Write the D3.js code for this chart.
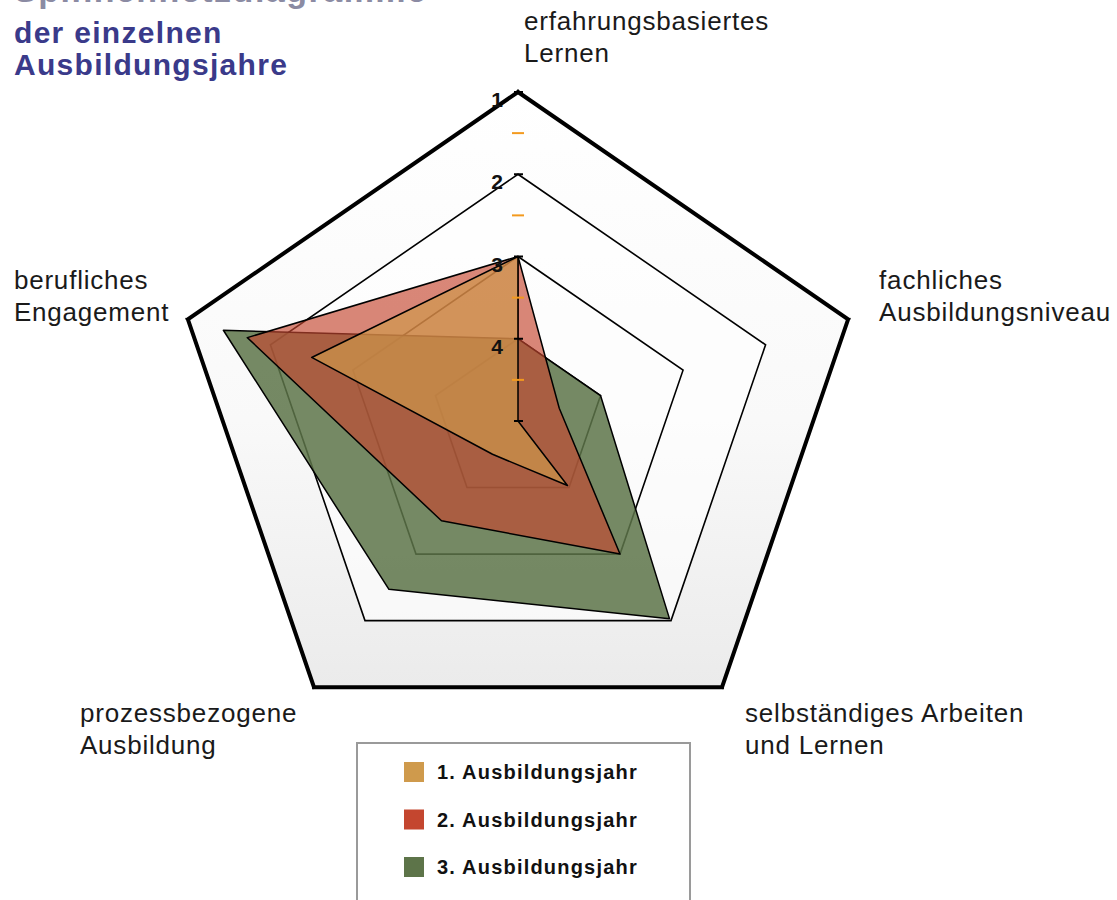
<!DOCTYPE html>
<html>
<head>
<meta charset="utf-8">
<script src="https://cdn.jsdelivr.net/npm/d3@7"></script>
<style>
  body { margin: 0; background: #fff; }
  svg { display: block; }
</style>
</head>
<body>
<svg id="chart" width="1117" height="900"></svg>
<script>
// axes, clockwise from top
const axes = [
  ['erfahrungsbasiertes', 'Lernen'],
  ['fachliches', 'Ausbildungsniveau'],
  ['selbständiges Arbeiten', 'und Lernen'],
  ['prozessbezogene', 'Ausbildung'],
  ['berufliches', 'Engagement'],
]

// series (scale runs 1 = outside, 5 = centre)
const seriesNames = ['1. Ausbildungsjahr', '2. Ausbildungsjahr', '3. Ausbildungsjahr']
const year1 = [3.0, 5.0, 4.03, 4.5, 2.5]
const year2 = [3.0, 4.5, 3.0, 3.5, 1.72]
const year3 = [4.0, 4.0, 2.03, 2.47, 1.43]
const seriesValues = [year1, year2, year3]
const seriesColors = ['#cf9a4c', '#c4462f', '#5d7449']

const majorTicks = [1, 2, 3, 4, 5]
const minorTicks = [1.5, 2.5, 3.5, 4.5]
const tickLabels = ['1', '2', '3', '4']

const titleLines = ['Spinnennetzdiagramme', 'der einzelnen', 'Ausbildungsjahre']

// layout
const cx = 518, cy = 421, radius = 329
const sx = 1.055 // picture is slightly wider than tall
const labelFont = 'Liberation Sans, Arial, sans-serif'

const svg = d3.select('#chart')

const r = d3.scaleLinear().domain([5, 1]).range([0, radius])
const angle = d3.scaleLinear().domain([0, axes.length]).range([0, 2 * Math.PI])

function pt(i, v) {
  const a = angle(i)
  return [cx + sx * r(v) * Math.sin(a), cy - r(v) * Math.cos(a)]
}
function ring(v) {
  return axes.map((_, i) => pt(i, v))
}
const closed = d3.line().curve(d3.curveLinearClosed)

// background gradient
const defs = svg.append('defs')
const grad = defs.append('linearGradient')
  .attr('id', 'bg').attr('x1', 0).attr('y1', 0).attr('x2', 0).attr('y2', 1)
grad.append('stop').attr('offset', '0%').attr('stop-color', '#ffffff')
grad.append('stop').attr('offset', '55%').attr('stop-color', '#f9f9f9')
grad.append('stop').attr('offset', '100%').attr('stop-color', '#ebebeb')

const plot = svg.append('g').attr('id', 'plot')

plot.append('path')
  .attr('d', closed(ring(1)))
  .attr('fill', 'url(#bg)')

// inner white-ish area
plot.append('path')
  .attr('d', closed(ring(2)))
  .attr('fill', '#ffffff')
  .attr('opacity', 0.6)

// grid rings
plot.append('g').selectAll('path')
  .data([2, 3, 4])
  .join('path')
  .attr('d', (d) => closed(ring(d)))
  .attr('fill', 'none')
  .attr('stroke', '#000')
  .attr('stroke-width', 1.6)

// axis line (centre up to value 3)
plot.append('line')
  .attr('x1', cx).attr('y1', cy)
  .attr('x2', cx).attr('y2', cy - r(3))
  .attr('stroke', '#000')
  .attr('stroke-width', 2)

// series polygons, third year at the back
const polys = plot.append('g').attr('id', 'series')
seriesValues.map((vals, k) => ({ vals, k })).reverse().forEach(({ vals, k }) => {
  polys.append('path')
    .attr('d', closed(vals.map((v, i) => pt(i, v))))
    .attr('fill', seriesColors[k])
    .attr('fill-opacity', k === 2 ? 0.85 : 0.65)
    .attr('stroke', '#000')
    .attr('stroke-width', 1.5)
    .attr('stroke-linejoin', 'round')
})

// outer ring
plot.append('path')
  .attr('d', closed(ring(1)))
  .attr('fill', 'none')
  .attr('stroke', '#000')
  .attr('stroke-width', 4)
  .attr('stroke-linejoin', 'miter')

// small axis ends beyond the outer ring
plot.append('g').selectAll('line')
  .data(axes)
  .join('line')
  .attr('x1', (d, i) => pt(i, 1)[0])
  .attr('y1', (d, i) => pt(i, 1)[1])
  .attr('x2', (d, i) => pt(i, 0.97)[0])
  .attr('y2', (d, i) => pt(i, 0.97)[1])
  .attr('stroke', '#000')
  .attr('stroke-width', 1.5)

// ticks on the vertical axis
plot.append('g').selectAll('line')
  .data(minorTicks)
  .join('line')
  .attr('x1', cx - 6).attr('x2', cx + 6)
  .attr('y1', (d) => cy - r(d)).attr('y2', (d) => cy - r(d))
  .attr('stroke', '#f39a1e')
  .attr('stroke-width', 2)

plot.append('g').selectAll('line')
  .data(majorTicks)
  .join('line')
  .attr('x1', cx - 4).attr('x2', cx + 5)
  .attr('y1', (d) => cy - r(d)).attr('y2', (d) => cy - r(d))
  .attr('stroke', '#000')
  .attr('stroke-width', 2)

plot.append('g').selectAll('text')
  .data(tickLabels)
  .join('text')
  .attr('x', cx - 15)
  .attr('y', (d) => cy - r(+d) + 15)
  .attr('text-anchor', 'end')
  .attr('font-family', labelFont)
  .attr('font-weight', 'bold')
  .attr('font-size', 21)
  .attr('fill', '#111')
  .text((d) => d)

// axis labels
const labelOffsets = [
  { dx: 6, dy: -62 },
  { dx: 31, dy: -30 },
  { dx: 23, dy: 35 },
  { dx: -234, dy: 35 },
  { dx: -174, dy: -30 },
]
const labels = svg.append('g').attr('id', 'labels')
axes.forEach((lines, i) => {
  const p = pt(i, 1)
  const t = labels.append('text')
    .attr('font-family', labelFont)
    .attr('font-size', 26)
    .attr('letter-spacing', 0.8)
    .attr('fill', '#1a1a1a')
  lines.forEach((line, j) => {
    t.append('tspan')
      .attr('x', p[0] + labelOffsets[i].dx)
      .attr('y', p[1] + labelOffsets[i].dy + j * 32)
      .text(line)
  })
})

// title (first line is cut off by the top edge, as in the source)
const title = svg.append('g').attr('id', 'title')
title.append('text')
  .attr('x', 14).attr('y', 2)
  .attr('font-family', labelFont)
  .attr('font-weight', 'bold')
  .attr('font-size', 34)
  .attr('letter-spacing', 1.5)
  .attr('fill', '#8b8ba3')
  .text(titleLines[0])
title.selectAll('text.sub')
  .data(titleLines.slice(1))
  .join('text')
  .attr('class', 'sub')
  .attr('x', 14)
  .attr('y', (d, i) => 43 + i * 32)
  .attr('font-family', labelFont)
  .attr('font-weight', 'bold')
  .attr('font-size', 30)
  .attr('letter-spacing', 1.3)
  .attr('fill', '#3a3a8a')
  .text((d) => d)

// legend
const legend = svg.append('g').attr('id', 'legend')
legend.append('rect')
  .attr('x', 357).attr('y', 743)
  .attr('width', 333).attr('height', 200)
  .attr('fill', '#fff')
  .attr('stroke', '#9a9a9a')
  .attr('stroke-width', 2)

const rows = legend.selectAll('g.row')
  .data(seriesNames)
  .join('g')
  .attr('class', 'row')
  .attr('transform', (d, i) => `translate(404,${772 + i * 47.5})`)
rows.append('rect')
  .attr('x', 0).attr('y', -10)
  .attr('width', 20).attr('height', 20)
  .attr('fill', (d, i) => seriesColors[i])
rows.append('text')
  .attr('x', 33).attr('y', 7)
  .attr('font-family', labelFont)
  .attr('font-weight', 'bold')
  .attr('font-size', 20)
  .attr('letter-spacing', 1.2)
  .attr('fill', '#111')
  .text((d) => d)
</script>
</body>
</html>
